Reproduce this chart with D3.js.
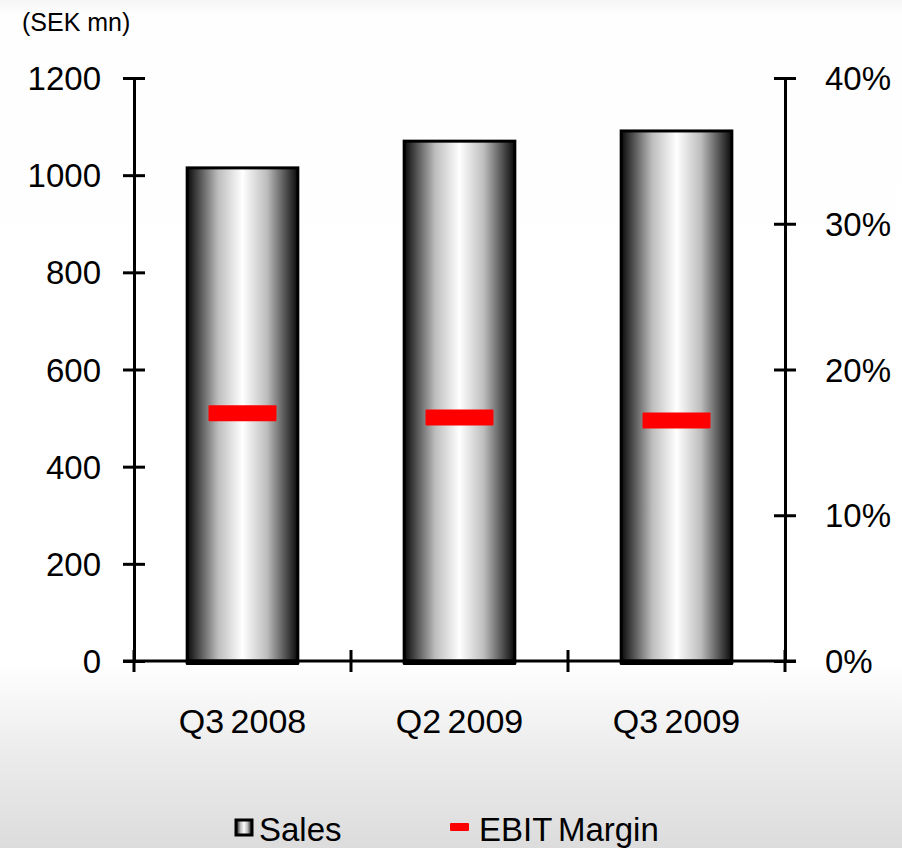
<!DOCTYPE html>
<html>
<head>
<meta charset="utf-8">
<script src="https://cdn.jsdelivr.net/npm/d3@7/dist/d3.min.js"></script>
<style>
  body { margin: 0; overflow: hidden; background: #fff; }
  svg text { font-family: "Liberation Sans", Arial, sans-serif; fill: #000; }
</style>
</head>
<body>
<div id="chart"></div>
<script>
var categories = ["Q3 2008", "Q2 2009", "Q3 2009"];
var sales = [1015, 1070, 1091];
var ebitMargin = [17.0, 16.7, 16.5];
var leftTicks = [0, 200, 400, 600, 800, 1000, 1200];
var rightTicks = [0, 10, 20, 30, 40];

var W = 902, H = 848;
var plotL = 134, plotR = 785, plotT = 78, plotB = 661;

var svg = d3.select("#chart").append("svg")
  .attr("width", W)
  .attr("height", H);

var defs = svg.append("defs");

// page background: faint band at top, grey fade at bottom
var bg = defs.append("linearGradient")
  .attr("id", "bg").attr("x1", 0).attr("y1", 0).attr("x2", 0).attr("y2", 1);
bg.append("stop").attr("offset", "0%").attr("stop-color", "#f5f5f5");
bg.append("stop").attr("offset", "1.6%").attr("stop-color", "#fefefe");
bg.append("stop").attr("offset", "78%").attr("stop-color", "#ffffff");
bg.append("stop").attr("offset", "88%").attr("stop-color", "#ededed");
bg.append("stop").attr("offset", "100%").attr("stop-color", "#dcdcdc");
svg.append("rect").attr("width", W).attr("height", H).attr("fill", "url(#bg)");

// cylinder style bar fill
var cyl = defs.append("linearGradient")
  .attr("id", "cyl").attr("x1", 0).attr("y1", 0).attr("x2", 1).attr("y2", 0);
[["0%", "#0a0a0a"], ["10%", "#4a4a4a"], ["28%", "#bdbdbd"], ["50%", "#ffffff"],
 ["72%", "#bdbdbd"], ["90%", "#4a4a4a"], ["100%", "#0a0a0a"]].forEach(function(s) {
  cyl.append("stop").attr("offset", s[0]).attr("stop-color", s[1]);
});

var x = d3.scaleBand()
  .domain(categories)
  .range([plotL, plotR])
  .paddingInner(0.49)
  .paddingOuter(0.245);

var y = d3.scaleLinear().domain([0, 1200]).range([plotB, plotT]);
var y2 = d3.scaleLinear().domain([0, 40]).range([plotB, plotT]);

// bars
svg.selectAll(".bar")
  .data(sales)
  .enter().append("rect")
  .attr("class", "bar")
  .attr("x", function(d, i) { return x(categories[i]); })
  .attr("y", function(d) { return y(d); })
  .attr("width", x.bandwidth())
  .attr("height", function(d) { return y(0) - y(d); })
  .attr("fill", "url(#cyl)")
  .attr("stroke", "#000")
  .attr("stroke-width", 3);

// thick base under each bar
svg.selectAll(".base")
  .data(sales)
  .enter().append("rect")
  .attr("x", function(d, i) { return x(categories[i]) - 1.5; })
  .attr("y", y(0) - 1)
  .attr("width", x.bandwidth() + 3)
  .attr("height", 5)
  .attr("rx", 1.5)
  .attr("fill", "#000");

// EBIT margin markers
svg.selectAll(".ebit")
  .data(ebitMargin)
  .enter().append("rect")
  .attr("x", function(d, i) { return x(categories[i]) + x.bandwidth() / 2 - 34; })
  .attr("y", function(d) { return y2(d) - 8; })
  .attr("width", 68)
  .attr("height", 16)
  .attr("rx", 1)
  .attr("fill", "#ff0000");

// axes
var tickLen = 11;
function crossTicks(g) {
  g.selectAll(".tick line")
    .attr("stroke", "#000").attr("stroke-width", 3);
  g.select(".domain").attr("stroke", "#000").attr("stroke-width", 3);
}

var yAxis = svg.append("g")
  .attr("transform", "translate(" + plotL + ",0)")
  .call(d3.axisLeft(y).tickValues(leftTicks).tickSize(tickLen).tickSizeOuter(0)
    .tickPadding(22).tickFormat(d3.format("d")));
yAxis.call(crossTicks);
yAxis.selectAll(".tick line").attr("x2", -tickLen).attr("x1", tickLen);
yAxis.selectAll("text").style("font-size", "33px").attr("dy", "0.35em");

var yAxis2 = svg.append("g")
  .attr("transform", "translate(" + plotR + ",0)")
  .call(d3.axisRight(y2).tickValues(rightTicks).tickSize(tickLen).tickSizeOuter(0)
    .tickPadding(29).tickFormat(function(d) { return d + "%"; }));
yAxis2.call(crossTicks);
yAxis2.selectAll(".tick line").attr("x1", -tickLen).attr("x2", tickLen);
yAxis2.selectAll("text").style("font-size", "33px").attr("dy", "0.35em");

// x axis: ticks between categories
var xAxisG = svg.append("g").attr("transform", "translate(0," + plotB + ")");
xAxisG.append("line")
  .attr("x1", plotL - tickLen).attr("x2", plotR + tickLen)
  .attr("stroke", "#000").attr("stroke-width", 3);
var edges = [plotL].concat(categories.map(function(c) { return x(c) + x.bandwidth() / 2 + x.step() / 2; }));
xAxisG.selectAll(".xt")
  .data(edges)
  .enter().append("line")
  .attr("x1", function(d) { return d; }).attr("x2", function(d) { return d; })
  .attr("y1", -tickLen).attr("y2", tickLen)
  .attr("stroke", "#000").attr("stroke-width", 3);
xAxisG.selectAll(".xl")
  .data(categories)
  .enter().append("text")
  .attr("x", function(d) { return x(d) + x.bandwidth() / 2; })
  .attr("y", 72)
  .attr("text-anchor", "middle")
  .style("font-size", "34px")
  .style("word-spacing", "-3px")
  .text(function(d) { return d; });

// unit label
svg.append("text")
  .attr("x", 22).attr("y", 31)
  .style("font-size", "25px")
  .text("(SEK mn)");

// legend
var lg = svg.append("g").attr("transform", "translate(0,830)");
lg.append("rect")
  .attr("x", 236).attr("y", -10).attr("width", 16).attr("height", 15)
  .attr("fill", "url(#cyl)").attr("stroke", "#000").attr("stroke-width", 3);
lg.append("text").attr("x", 259).attr("y", 11).style("font-size", "33px").text("Sales");
lg.append("rect")
  .attr("x", 450).attr("y", -7).attr("width", 19).attr("height", 8)
  .attr("rx", 1).attr("fill", "#ff0000");
lg.append("text").attr("x", 479).attr("y", 11).style("font-size", "33px")
  .style("word-spacing", "-3px").text("EBIT Margin");
</script>
</body>
</html>
